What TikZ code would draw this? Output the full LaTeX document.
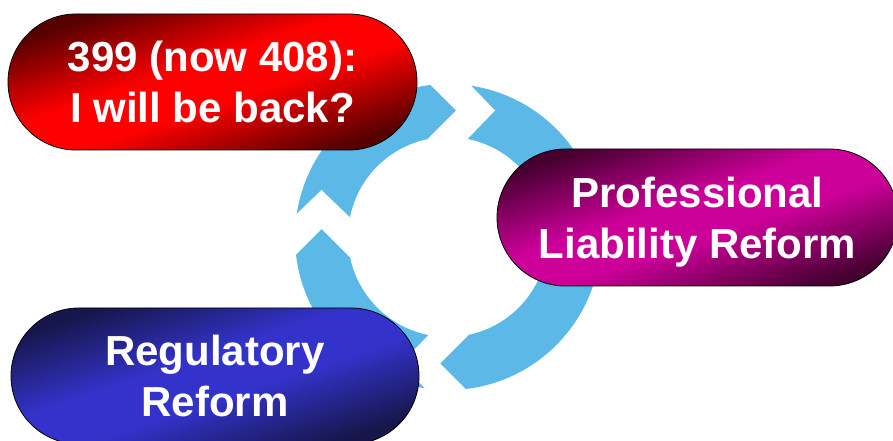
\documentclass[tikz,border=0pt]{standalone}
\usepackage{fontspec}
\setmainfont{Liberation Sans}
\usetikzlibrary{shapes.misc}

\definecolor{ringblue}{HTML}{5BB8E7}
\definecolor{rdk}{HTML}{560000}
\definecolor{rbr}{HTML}{FF0000}
\definecolor{mdk}{HTML}{460030}
\definecolor{mbr}{HTML}{CC0099}
\definecolor{bdk}{HTML}{16164A}
\definecolor{bbr}{HTML}{3333CC}

% diagonal capsule fills: dark at two opposite corners, bright band across the middle
\pgfdeclareverticalshading{capred}{100bp}{color(0bp)=(rdk); color(27bp)=(rdk); color(45bp)=(rbr); color(55bp)=(rbr); color(73bp)=(rdk); color(100bp)=(rdk)}
\pgfdeclareverticalshading{capmag}{100bp}{color(0bp)=(mdk); color(27bp)=(mdk); color(45bp)=(mbr); color(55bp)=(mbr); color(73bp)=(mdk); color(100bp)=(mdk)}
\pgfdeclareverticalshading{capblue}{100bp}{color(0bp)=(bdk); color(27bp)=(bdk); color(45bp)=(bbr); color(55bp)=(bbr); color(73bp)=(bdk); color(100bp)=(bdk)}

\begin{document}
\begin{tikzpicture}[x=1pt,y=1pt,
  capsule/.style={rounded rectangle, draw=black, line width=0.8pt,
    minimum height=136pt, inner sep=0pt, text=white, align=center,
    font=\fontsize{42pt}{51pt}\selectfont\bfseries, text depth=0pt,
    path picture={\node[inner sep=0pt, rotate=18.5, scale=4.4]
      at (path picture bounding box.center) {\pgfuseshading{#1}};}},
  gapcut/.style={fill=white}]
\useasboundingbox (0,0) rectangle (893,441);

% the cycle ring
\fill[ringblue, even odd rule] (448,204) circle (153) (448,204) circle (100);

% chevron gaps between the ring's arrow segments (clockwise flow)
\foreach \ang in {0,90,180,270}{
  \begin{scope}[shift={(448,204)}, rotate=\ang]
    \fill[gapcut] (-20,175) -- (-20,154.5) -- (8,126.5) -- (-20,98.5) -- (-20,80)
      -- (20,80) -- (20,98.5) -- (47,126.5) -- (20,154.5) -- (20,175) -- cycle;
  \end{scope}
}

% the three labelled capsules
\node[capsule=capred, minimum width=409pt] (back) at (212.5,359)
  {399 (now 408):\\I will be back?};
\node[capsule=capmag, minimum width=401pt, minimum height=137pt] (liab) at (697.5,223.5)
  {Professional\\Liability Reform};
\node[capsule=capblue, minimum width=408pt] (regul) at (215,65)
  {Regulatory\\Reform};
\end{tikzpicture}
\end{document}
